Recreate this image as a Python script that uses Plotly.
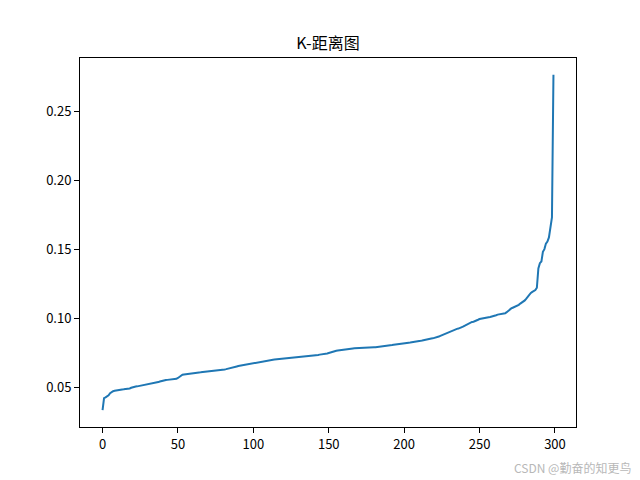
import plotly.graph_objects as go

title_text = "K-距离图"
watermark = "CSDN @勤奋的知更鸟"

k_distance = [
    0.0332, 0.0420, 0.0425, 0.0430, 0.0440, 0.0455, 0.0464, 0.0470, 0.0473, 0.0476,
    0.0478, 0.0480, 0.0481, 0.0483, 0.0484, 0.0485, 0.0486, 0.0488, 0.0490, 0.0495,
    0.0499, 0.0502, 0.0504, 0.0505, 0.0507, 0.0509, 0.0511, 0.0514, 0.0517, 0.0519,
    0.0521, 0.0522, 0.0524, 0.0525, 0.0527, 0.0529, 0.0532, 0.0536, 0.0540, 0.0544,
    0.0547, 0.0549, 0.0551, 0.0552, 0.0553, 0.0554, 0.0555, 0.0556, 0.0557, 0.0560,
    0.0566, 0.0574, 0.0583, 0.0589, 0.0591, 0.0593, 0.0595, 0.0597, 0.0598, 0.0600,
    0.0601, 0.0603, 0.0604, 0.0605, 0.0606, 0.0607, 0.0608, 0.0609, 0.0611, 0.0612,
    0.0613, 0.0614, 0.0615, 0.0616, 0.0618, 0.0620, 0.0621, 0.0622, 0.0623, 0.0625,
    0.0626, 0.0628, 0.0630, 0.0632, 0.0634, 0.0636, 0.0639, 0.0643, 0.0646, 0.0649,
    0.0652, 0.0654, 0.0656, 0.0658, 0.0660, 0.0662, 0.0664, 0.0666, 0.0668, 0.0670,
    0.0673, 0.0676, 0.0679, 0.0682, 0.0685, 0.0687, 0.0688, 0.0689, 0.0691, 0.0693,
    0.0695, 0.0696, 0.0697, 0.0698, 0.0699, 0.0700, 0.0701, 0.0702, 0.0703, 0.0704,
    0.0705, 0.0706, 0.0708, 0.0710, 0.0712, 0.0713, 0.0714, 0.0715, 0.0716, 0.0717,
    0.0718, 0.0719, 0.0720, 0.0721, 0.0722, 0.0722, 0.0723, 0.0724, 0.0725, 0.0726,
    0.0727, 0.0729, 0.0731, 0.0733, 0.0735, 0.0736, 0.0737, 0.0739, 0.0741, 0.0744,
    0.0747, 0.0751, 0.0755, 0.0758, 0.0761, 0.0763, 0.0765, 0.0767, 0.0768, 0.0769,
    0.0771, 0.0773, 0.0775, 0.0777, 0.0778, 0.0779, 0.0780, 0.0781, 0.0782, 0.0783,
    0.0784, 0.0784, 0.0785, 0.0785, 0.0786, 0.0786, 0.0787, 0.0787, 0.0788, 0.0788,
    0.0789, 0.0789, 0.0790, 0.0791, 0.0793, 0.0795, 0.0797, 0.0799, 0.0800, 0.0801,
    0.0802, 0.0803, 0.0805, 0.0807, 0.0809, 0.0810, 0.0811, 0.0812, 0.0813, 0.0814,
    0.0816, 0.0818, 0.0820, 0.0822, 0.0823, 0.0824, 0.0825, 0.0827, 0.0829, 0.0831,
    0.0833, 0.0835, 0.0837, 0.0840, 0.0844, 0.0847, 0.0850, 0.0851, 0.0852, 0.0853,
    0.0855, 0.0857, 0.0861, 0.0866, 0.0871, 0.0876, 0.0880, 0.0884, 0.0888, 0.0892,
    0.0896, 0.0902, 0.0910, 0.0917, 0.0920, 0.0922, 0.0924, 0.0927, 0.0932, 0.0938,
    0.0944, 0.0950, 0.0958, 0.0966, 0.0970, 0.0972, 0.0974, 0.0977, 0.0982, 0.0988,
    0.0993, 0.0996, 0.0998, 0.1000, 0.1002, 0.1004, 0.1006, 0.1008, 0.1010, 0.1012,
    0.1016, 0.1021, 0.1025, 0.1027, 0.1028, 0.1029, 0.1030, 0.1035, 0.1043, 0.1053,
    0.1063, 0.1070, 0.1075, 0.1079, 0.1083, 0.1088, 0.1096, 0.1105, 0.1112, 0.1118,
    0.1128, 0.1141, 0.1158, 0.1172, 0.1182, 0.1190, 0.1196, 0.1203, 0.1220, 0.1360,
    0.1398, 0.1410, 0.1480, 0.1500, 0.1540, 0.1555, 0.1585, 0.1650, 0.1730, 0.2764,
]
point_index = list(range(len(k_distance)))

x_ticks = [0, 50, 100, 150, 200, 250, 300]
y_ticks = [0.05, 0.10, 0.15, 0.20, 0.25]
y_tick_labels = ["0.05", "0.10", "0.15", "0.20", "0.25"]

n = len(k_distance)
xpad = (n - 1) * 0.05
ymin, ymax = min(k_distance), max(k_distance)
ypad = (ymax - ymin) * 0.05

font_family = "Noto Sans CJK SC, Liberation Sans, DejaVu Sans, sans-serif"

fig = go.Figure()
fig.add_trace(go.Scatter(
    x=point_index, y=k_distance, mode="lines",
    line=dict(color="#1f77b4", width=2),
    showlegend=False, hoverinfo="skip",
))

axis_common = dict(
    showgrid=False, zeroline=False,
    showline=True, linecolor="black", linewidth=1, mirror=True,
    ticks="outside", ticklen=5, tickwidth=1, tickcolor="black",
    tickfont=dict(family=font_family, size=13, color="black"),
)

fig.update_layout(
    width=640, height=480,
    margin=dict(l=80, r=64, t=58, b=53),
    paper_bgcolor="white", plot_bgcolor="white",
    title=dict(text=title_text, x=0.5125, xanchor="center", y=1 - 43 / 480, yanchor="middle",
               font=dict(family=font_family, size=16, color="black")),
    xaxis=dict(range=[-xpad, n - 1 + xpad], tickvals=x_ticks, **axis_common),
    yaxis=dict(range=[ymin - ypad, ymax + ypad], tickvals=y_ticks, ticktext=y_tick_labels, **axis_common),
    annotations=[dict(
        text=watermark, xref="paper", yref="paper", x=(633 - 80) / 496, y=-(467 - 427) / 369,
        xanchor="right", yanchor="middle", showarrow=False,
        font=dict(family=font_family, size=12, color="#b8b8b8"),
    )],
)

fig.write_html(
    "out.html",
    config={"displayModeBar": False},
    post_script="document.body.style.margin='0';document.body.style.overflow='hidden';",
)
